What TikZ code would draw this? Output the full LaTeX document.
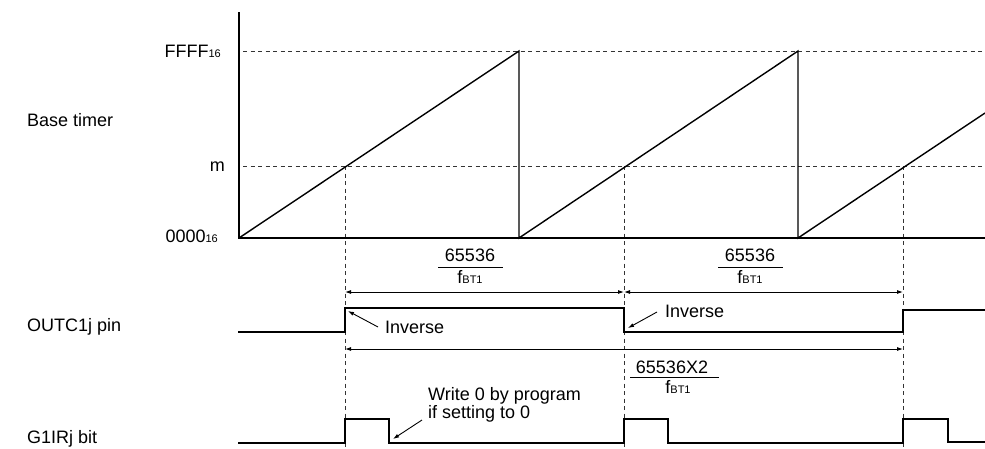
\documentclass[tikz,border=0pt]{standalone}
\usepackage{fontspec}
\setmainfont{Liberation Sans}
\usetikzlibrary{arrows.meta}
\newcommand\mysub[1]{{\fontsize{11}{12}\selectfont #1}}
\begin{document}
\begin{tikzpicture}[x=1pt,y=-1pt,
  lbl/.style={font=\fontsize{18}{18}\selectfont, inner sep=0pt},
  axisline/.style={line width=2pt},
  sig/.style={line width=1.4pt},
  guide/.style={dash pattern=on 4pt off 3.5pt, line width=0.9pt, black!80},
  dimline/.style={line width=0.9pt, {Latex[length=6pt,width=4pt]}-{Latex[length=6pt,width=4pt]}},
  note/.style={line width=0.9pt, -{Latex[length=6pt,width=4pt]}},
  fracrule/.style={line width=0.9pt},
]
\useasboundingbox (0,0) rectangle (985,448);

% key coordinates
\coordinate (O) at (239,238);
\coordinate (Ytop) at (239,12);
\coordinate (Xend) at (985,238);
\coordinate (A) at (345,166);
\coordinate (B) at (624,166);
\coordinate (C) at (903,166);

% guide lines
\draw[guide] (243,51) -- (985,51);
\draw[guide] (243,166) -- (985,166);
\draw[guide] (A) -- (345,447);
\draw[guide] (B) -- (624,447);
\draw[guide] (C) -- (903,447);

% axes
\draw[axisline] (Ytop) -- (O) -- (Xend);

% sawtooth
\draw[sig] (O) -- (519,51) -- (519,238) -- (798,51) -- (798,238) -- (985,113);

% axis labels
\node[lbl, anchor=base east] (ffff) at (221,57) {FFFF\mysub{16}};
\node[lbl, anchor=base east] (mlbl) at (225,171) {m};
\node[lbl, anchor=base east] (zero) at (218,242) {0000\mysub{16}};

% row labels
\node[lbl, anchor=base west] (base) at (27,126) {Base timer};
\node[lbl, anchor=base west] (outc) at (27,331) {OUTC1j pin};
\node[lbl, anchor=base west] (girj) at (27,443) {G1IRj bit};

% dimension arrows
\coordinate (d1a) at (345,292);
\coordinate (d1b) at (624,292);
\coordinate (d1c) at (903,292);
\draw[dimline] (d1a) -- (d1b);
\draw[dimline] (d1b) -- (d1c);
\coordinate (d2a) at (345,349);
\coordinate (d2b) at (903,349);
\draw[dimline] (d2a) -- (d2b);

% fractions
\node[lbl, anchor=base] (n1) at (470,261) {65536};
\draw[fracrule] (438,267) -- (503,267);
\node[lbl, anchor=base] (f1) at (470,283) {f\mysub{BT1}};
\node[lbl, anchor=base] (n2) at (750,261) {65536};
\draw[fracrule] (718,267) -- (783,267);
\node[lbl, anchor=base] (f2) at (750,283) {f\mysub{BT1}};
\node[lbl, anchor=base] (n3) at (672,373) {65536X2};
\draw[fracrule] (630,377) -- (719,377);
\node[lbl, anchor=base] (f3) at (678,393) {f\mysub{BT1}};

% OUTC1j waveform
\draw[sig] (238,332) -- (345,332) -- (345,308) -- (624,308) -- (624,332) -- (903,332) -- (903,310) -- (985,310);

% G1IRj waveform
\draw[sig] (238,443) -- (345,443) -- (345,419) -- (389,419) -- (389,443) -- (624,443) -- (624,419) -- (668,419) -- (668,443) -- (903,443) -- (903,419) -- (948,419) -- (948,442) -- (985,442);

% notes
\node[lbl, anchor=base west] (inv1) at (385,333) {Inverse};
\coordinate (inv1s) at (378,327);
\coordinate (inv1t) at (348,311);
\draw[note] (inv1s) -- (inv1t);
\node[lbl, anchor=base west] (inv2) at (665,317) {Inverse};
\coordinate (inv2s) at (657,312);
\coordinate (inv2t) at (628,328);
\draw[note] (inv2s) -- (inv2t);
\node[lbl, anchor=base west] (wr1) at (428,400) {Write 0 by program};
\node[lbl, anchor=base west] (wr2) at (428,418) {if setting to 0};
\coordinate (wrs) at (422,420);
\coordinate (wrt) at (393,439);
\draw[note] (wrs) -- (wrt);
\end{tikzpicture}
\end{document}
